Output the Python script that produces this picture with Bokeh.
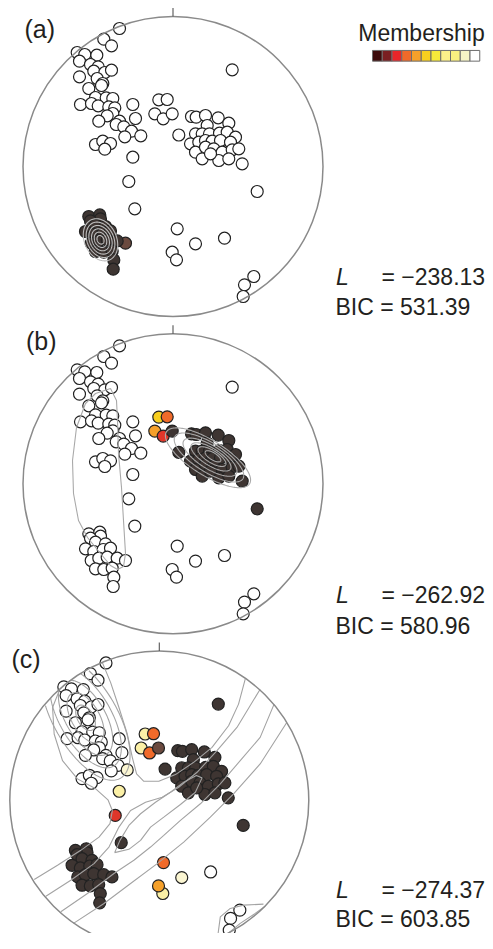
import numpy as np
from bokeh.plotting import figure
from bokeh.models import Range1d, Label, ColumnDataSource
from bokeh.embed import file_html
from bokeh.resources import INLINE

# ---------------- data (projected coordinates, primitive circle radius R = 150) -------------
R = 150.0

# top-left group
tl_x = [-53.5, -69.2, -61.5, -95.8, -88.2, -93.5, -76.2, -82.5, -74.8, -79.2,
        -68.2, -61.5, -93.5, -75.8, -70.2, -84.2, -71.5, -77.5, -66.8, -60.2,
        -92.5, -81.5, -74.8, -64.2, -58.2, -40.2, -60.2, -65.8, -74.2, -53.5,
        -56.8, -37.5, -49.2, -41.5, -48.2, -32.2, -77.5, -70.2, -62.5, -68.2]
tl_y = [138.0, 127.3, 120.7, 114.0, 112.0, 105.3, 111.3, 102.0, 99.7, 95.3,
        94.0, 96.3, 89.7, 88.0, 83.0, 78.0, 81.0, 69.0, 68.7, 68.0,
        62.0, 63.0, 60.7, 59.7, 58.7, 62.0, 53.0, 50.7, 45.3, 45.3,
        42.0, 48.0, 39.7, 35.3, 29.7, 30.7, 22.0, 25.3, 23.0, 17.3]
# small middle group
mid_x = [-14.2, -5.8, -18.2, -9.8, -0.8]
mid_y = [66.7, 67.0, 52.7, 47.7, 52.7]
# isolated points
iso_x = [5.8, -40.2, -44.2, -38.2, 59.2, 84.2, 4.2, 22.5, 51.5, -0.8, 3.5, 80.8, 71.5, 70.2]
iso_y = [31.5, 9.3, -15.0, -42.3, 96.7, -25.0, -62.3, -77.3, -71.7, -85.7, -93.3, -110.0, -118.3, -130.0]
# right cluster
rc_x = [18.5, 23.2, 32.5, 45.2, 55.8, 34.2, 22.5, 29.2, 36.5, 46.5,
        54.2, 62.5, 17.5, 25.8, 32.5, 39.2, 47.5, 57.5, 22.5, 32.5,
        40.8, 49.2, 59.2, 65.8, 29.2, 45.8, 55.8, 69.2, 37.5]
rc_y = [50.0, 49.3, 51.0, 48.7, 43.3, 41.0, 32.7, 32.7, 32.7, 33.3,
        34.3, 29.3, 22.7, 24.3, 26.0, 25.3, 26.0, 24.3, 14.3, 19.3,
        17.7, 14.3, 16.7, 17.7, 7.7, 6.0, 7.7, 2.7, 12.7]
# lower-left cluster
ll_x = [-84.2, -73.2, -72.5, -82.5, -77.5, -67.5, -87.5, -79.2, -69.8, -62.5,
        -81.8, -74.2, -65.8, -55.8, -47.5, -77.5, -69.2, -60.8, -59.2, -59.8]
ll_y = [-50.0, -48.4, -52.4, -54.4, -58.4, -60.0, -65.0, -67.7, -65.7, -64.4,
        -76.7, -74.4, -73.4, -74.4, -76.7, -85.0, -85.7, -84.4, -93.4, -102.7]

# membership of each point in the fitted dark component, per panel
memb_a = ([0.0] * 40 + [0.0, 0.0, 0.0, 0.0, 0.0] + [0.0] * 14 + [0.0] * 29
          + [1.0] * 14 + [0.9] + [1.0] * 5)
memb_b = ([0.0] * 40 + [0.5, 0.7, 0.6, 0.8, 1.0]
          + [1.0, 0, 0, 0, 0, 1.0, 0, 0, 0, 0, 0, 0, 0, 0] + [1.0] * 29 + [0.0] * 20)
memb_c = ([0.0] * 35 + [0.1] + [0.0] * 4 + [0.2, 0.7, 0.2, 0.7, 0.9]
          + [1.0, 0.2, 0.8, 1.0, 1.0, 1.0, 0.7, 0.1, 0.0, 0.6, 0.2, 0.0, 0.0, 0.0]
          + [1.0] * 29 + [1.0] * 20)

# contour ellipses (centre x, centre y, semi-axes, angle deg)
ell_a = dict(cx=[-72.5] * 6, cy=[-73.3] * 6,
             a=[22, 18.5, 15, 11.5, 8, 4.5], b=[16, 13.3, 10.8, 8.3, 5.8, 3.3], ang=[-65] * 6)
ell_b = dict(cx=[35, 36, 37, 38, 39, 40], cy=[26, 26.3, 26.6, 26.9, 27.2, 27.5],
             a=[49, 40, 31, 23, 16, 9], b=[17.5, 14.5, 11.5, 8.5, 6, 3.5], ang=[-32] * 6)
ell_c = dict(cx=[-74] * 5, cy=[83] * 5,
             a=[70, 56, 42, 28, 14], b=[32, 26, 20, 14, 8], ang=[-60] * 5)

# loop contour of panel (b)
loop_b_x = [-62.5, -56.5, -55.5, -54.5, -51.5, -49.5, -47.5, -49.5, -55.5, -62.5,
            -72.5, -85.5, -94.5, -99.5, -100.5, -96.5, -87.5, -77.5, -62.5]
loop_b_y = [95.3, 83.3, 63.3, 30.3, -3.7, -36.7, -69.7, -82.7, -85.7, -81.7,
            -69.7, -53.7, -36.7, -9.7, 23.3, 56.3, 80.3, 90.3, 95.3]

# traced contour lines of panel (c)
c1_x = [-125.5, -102.1, -78.8, -60.5, -49.5, -47.1, -51.5, -63.8, -82.1, -97.1, -105.5, -107.1, -100.5]
c1_y = [-79.3, -65.0, -50.0, -36.7, -23.3, -10.0, 0.7, 11.7, 21.7, 40.0, 66.7, 93.3, 110.0]
c2_x = [-57.1, -48.8, -40.5, -32.1, -27.1, -22.8, -15.5, -0.5, 16.2, 34.5, 52.9, 69.5, 79.5, 86.2]
c2_y = [138.3, 118.3, 93.3, 66.7, 43.3, 26.7, 19.3, 19.3, 26.0, 38.3, 53.3, 75.0, 96.7, 121.7]
c3_x = [-113.8, -88.8, -65.5, -50.5, -40.5, -28.8, -13.8, 2.9, 19.5, 37.9, 57.9, 77.9, 101.2]
c3_y = [-96.0, -80.0, -63.3, -46.7, -26.7, -10.0, -1.7, 3.3, 13.3, 28.3, 50.0, 73.3, 111.7]
core_x = [-44.8, -30.5, -18.8, -8.8, 4.5, 21.2, 36.2, 42.9, 37.2, 24.5, 11.2, -3.8, -18.8, -30.5, -39.5, -44.8]
core_y = [-52.3, -49.0, -40.0, -26.7, -16.7, -4.0, 8.3, 22.7, 25.0, 18.3, 8.3, -1.7, -13.3, -25.0, -40.0, -52.3]
c4_x = [-98.8, -72.1, -45.5, -25.5, -8.8, 4.5, 21.2, 41.2, 61.2, 81.2, 101.2, 115.2]
c4_y = [-111.7, -93.3, -73.3, -60.0, -46.7, -35.0, -20.0, -3.3, 16.7, 40.0, 63.3, 96.7]
c5_x = [-86.1, -55.5, -28.8, -2.1, 24.5, 51.2, 74.5, 101.2, 127.9]
c5_y = [-123.3, -103.3, -83.3, -63.3, -41.7, -16.7, 6.7, 36.7, 78.3]
lobe1_x = [58.5, 61.2, 71.2, 84.5, 104.5]
lobe1_y = [-137.3, -116.7, -108.3, -105.0, -104.0]
lobe2_x = [66.2, 81.2, 96.2, 106.2]
lobe2_y = [-135.7, -123.3, -113.3, -106.0]

panel_labels = ["(a)", "(b)", "(c)"]
L_values = ["\u2212238.13", "\u2212262.92", "\u2212274.37"]
BIC_values = ["531.39", "580.96", "603.85"]

legend_colors = ["#3d0b0b", "#7a1f22", "#e8262a", "#f06a2a", "#f5a02a", "#f8cf1f",
                 "#f7e93a", "#fcf08a", "#faf080", "#f6f4c6", "#ffffff"]
point_colors = ["#3e3532", "#6b4a3f", "#e0362a", "#f06a2a", "#f5a02a", "#f8cf1f",
                "#f7e93a", "#fcf08a", "#fbf0a6", "#fbf6d2", "#ffffff"]

# ---------------- layout ----------------
W, H = 485, 933
FONT = "Liberation Sans"
TXT = "#231f20"
FS = "23px"
PANELS = [("a", 172.5, 166.0, 150.0), ("b", 172.5, 483.3, 150.0), ("c", 158.8, 800.0, 149.5)]
TEXT_BASE = [(276.0, 306.7), (594.3, 625.0), (889.0, 918.0)]

xr, yr = {}, {}
for name, cx, cy, rp in PANELS:
    s = rp / R
    xr[name] = Range1d(-cx / s, (W - cx) / s)
    yr[name] = Range1d(-(H - cy) / s, cy / s)

p = figure(width=W, height=H, x_range=Range1d(0, W), y_range=Range1d(H, 0),
           x_axis_type=None, y_axis_type=None, output_backend="svg",
           toolbar_location=None, min_border=0)
p.min_border_left = p.min_border_right = p.min_border_top = p.min_border_bottom = 0
p.extra_x_ranges = xr
p.extra_y_ranges = yr
p.grid.visible = False
p.outline_line_color = None
p.background_fill_color = "white"
p.border_fill_color = "white"

all_x = np.array(tl_x + mid_x + iso_x + rc_x + ll_x)
all_y = np.array(tl_y + mid_y + iso_y + rc_y + ll_y)


def ellipse_lines(e):
    xs, ys = [], []
    t = np.linspace(0, 2 * np.pi, 181)
    for cx, cy, a, b, ang in zip(e["cx"], e["cy"], e["a"], e["b"], e["ang"]):
        th = np.radians(ang)
        x = cx + a * np.cos(t) * np.cos(th) - b * np.sin(t) * np.sin(th)
        y = cy + a * np.cos(t) * np.sin(th) + b * np.sin(t) * np.cos(th)
        out = np.hypot(x, y) > R
        x[out] = np.nan
        y[out] = np.nan
        xs.append(x)
        ys.append(y)
    return xs, ys


contours = {
    "a": ellipse_lines(ell_a),
    "b": ellipse_lines(ell_b),
    "c": ellipse_lines(ell_c),
}
contours["b"][0].append(np.array(loop_b_x))
contours["b"][1].append(np.array(loop_b_y))
for lx, ly in [(c1_x, c1_y), (c2_x, c2_y), (c3_x, c3_y), (core_x, core_y),
               (c4_x, c4_y), (c5_x, c5_y), (lobe1_x, lobe1_y), (lobe2_x, lobe2_y)]:
    contours["c"][0].append(np.array(lx))
    contours["c"][1].append(np.array(ly))

membs = {"a": memb_a, "b": memb_b, "c": memb_c}
contour_color = {"a": "#bdbdbd", "b": "#a9a9a9", "c": "#a3a3a3"}

for k, (name, cx, cy, rp) in enumerate(PANELS):
    m = np.array(membs[name], dtype=float)
    idx = np.array([int(round((1 - v) * 10)) for v in m])
    order = np.argsort(-idx, kind="stable")
    src = ColumnDataSource(dict(x=all_x[order], y=all_y[order],
                                c=[point_colors[i] for i in idx[order]]))
    p.scatter("x", "y", source=src, size=12, marker="circle", fill_color="c",
              line_color="#222222", line_width=1.2,
              x_range_name=name, y_range_name=name)
    xs, ys = contours[name]
    p.multi_line(xs=xs, ys=ys, line_color=contour_color[name], line_width=1.1,
                 x_range_name=name, y_range_name=name)
    p.circle(x=0, y=0, radius=R, fill_color=None, line_color="#8a8a8a", line_width=1.5,
             x_range_name=name, y_range_name=name)
    p.segment(x0=0, y0=R, x1=0, y1=R + 8.5, line_color="#555555", line_width=1.1,
              x_range_name=name, y_range_name=name)

    # texts
    lab_x = [24.0, 25.5, 11.0][k]
    lab_y = [28.7, 340.5, 658.5][k]
    p.add_layout(Label(x=lab_x, y=lab_y, text=panel_labels[k], text_font=FONT,
                       text_font_size="25px", text_color=TXT, text_baseline="alphabetic"))
    base_L, base_B = TEXT_BASE[k]
    p.add_layout(Label(x=335.5, y=base_L, text="L", text_font=FONT, text_font_style="italic",
                       text_font_size=FS, text_color=TXT, text_baseline="alphabetic"))
    p.add_layout(Label(x=381.0, y=base_L, text="= " + L_values[k], text_font=FONT,
                       text_font_size=FS, text_color=TXT, text_baseline="alphabetic"))
    p.add_layout(Label(x=335.0, y=base_B, text="BIC = " + BIC_values[k], text_font=FONT,
                       text_font_size=FS, text_color=TXT, text_baseline="alphabetic"))

# membership legend
p.add_layout(Label(x=421.0, y=32.3, text="Membership", text_font=FONT, text_font_size=FS,
                   text_color=TXT, text_baseline="alphabetic", text_align="center"))
sw_w = 9.75
sw_x = 372.0 + sw_w * (np.arange(len(legend_colors)) + 0.5)
p.rect(x=sw_x, y=[55.3] * len(legend_colors), width=sw_w, height=10.7,
       fill_color=legend_colors, line_color="#6d6d6d", line_width=1)

open("out.html", "w").write(file_html(p, INLINE))
